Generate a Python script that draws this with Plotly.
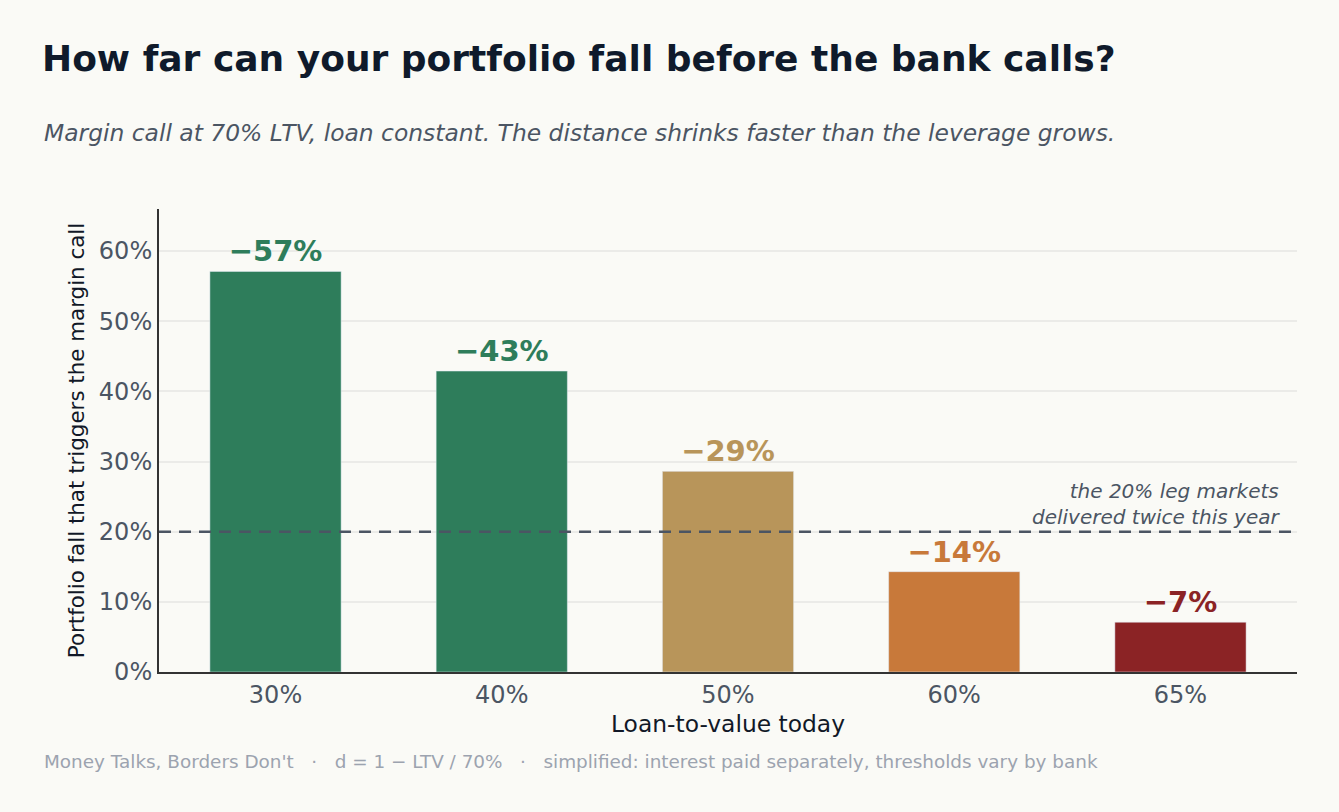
import plotly.graph_objects as go

# Data
ltv_labels = ["30%", "40%", "50%", "60%", "65%"]
fall_pct = [57.1, 42.9, 28.6, 14.3, 7.1]
bar_colors = ["#2E7D5B", "#2E7D5B", "#B8955A", "#C8793A", "#8B2325"]
threshold = 20

bg = "#FAFAF6"
font_family = "DejaVu Sans"
W, H = 1339, 812
ml, mr, mt, mb = 159, 42, 209, 140
plot_w = W - ml - mr
plot_h = H - mt - mb

fig = go.Figure()

fig.add_trace(go.Bar(
    x=ltv_labels,
    y=fall_pct,
    marker_color=bar_colors,
    width=0.58,
    text=[f"\u2212{round(v)}%" for v in fall_pct],
    textposition="outside",
    textfont=dict(family=font_family, size=29, color=bar_colors, weight="bold"),
    cliponaxis=False,
    hoverinfo="skip",
))

# 20% reference line
fig.add_hline(y=threshold, line_dash="12px,8px", line_color="#4B5563", line_width=2.6)
fig.add_annotation(
    x=1, xref="paper", xanchor="right", xshift=-15,
    y=threshold, yref="y", yanchor="bottom", yshift=1,
    text="the 20% leg markets<br>delivered twice this year",
    showarrow=False, align="right",
    font=dict(family=font_family, size=20, color="#4B5563", style="italic"),
)

# subtitle and footer, positioned in pixels relative to the plot area
fig.add_annotation(
    x=(42 - ml) / plot_w, xref="paper", xanchor="left",
    y=(H - mb - 133) / plot_h, yref="paper", yanchor="middle",
    text="Margin call at 70% LTV, loan constant. The distance shrinks faster than the leverage grows.",
    showarrow=False,
    font=dict(family=font_family, size=23.4, color="#4B5563", style="italic"),
)
fig.add_annotation(
    x=(42 - ml) / plot_w, xref="paper", xanchor="left",
    y=(H - mb - 761) / plot_h, yref="paper", yanchor="middle",
    text="Money Talks, Borders Don't   \u00b7   d = 1 \u2212 LTV / 70%   \u00b7   simplified: interest paid separately, thresholds vary by bank",
    showarrow=False,
    font=dict(family=font_family, size=18.4, color="#9CA3AF"),
)

fig.update_layout(
    width=W, height=H,
    paper_bgcolor=bg, plot_bgcolor=bg,
    margin=dict(l=ml, r=mr, t=mt, b=mb),
    showlegend=False,
    font=dict(family=font_family, color="#4B5563"),
    title=dict(
        text="<b>How far can your portfolio fall before the bank calls?</b>",
        x=42 / W, xanchor="left", xref="container",
        y=1 - 58 / H, yanchor="middle", yref="container",
        font=dict(family=font_family, size=36, color="#0F1A2B"),
    ),
    xaxis=dict(
        title=dict(text="Loan-to-value today", font=dict(size=23.4, color="#111827"), standoff=8),
        tickfont=dict(size=24, color="#4B5563"),
        range=[-0.515, 4.515],
        showline=True, linecolor="#333333", linewidth=2,
        showgrid=False, ticks="",
    ),
    yaxis=dict(
        title=dict(text="Portfolio fall that triggers the margin call",
                   font=dict(size=21.4, color="#111827"), standoff=8),
        range=[0, 66], dtick=10, ticksuffix="%",
        tickfont=dict(size=24, color="#4B5563"),
        showline=True, linecolor="#333333", linewidth=2,
        gridcolor="#EBEBE8", gridwidth=1.5, zeroline=False, ticks="",
    ),
)

fig.write_html("out.html", config={"displayModeBar": False},
               post_script="document.body.style.margin='0';")
